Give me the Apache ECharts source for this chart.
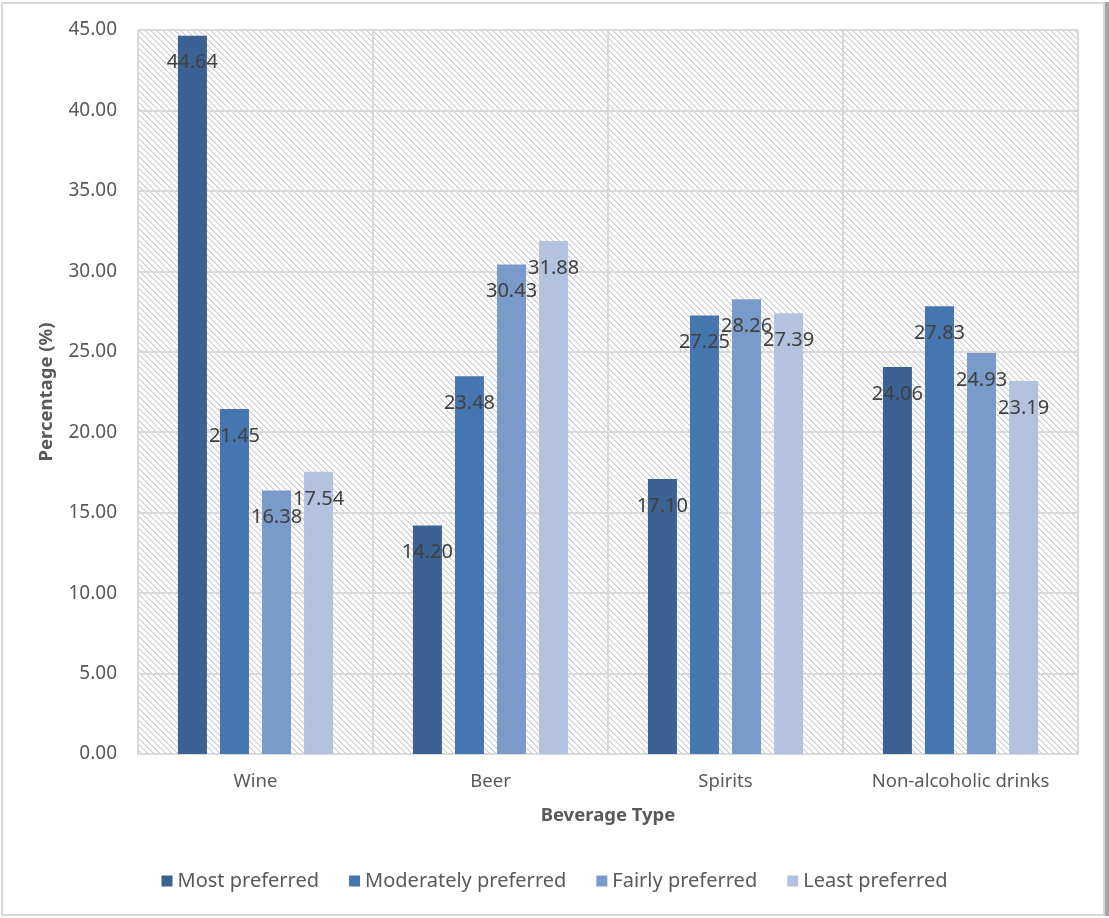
<!DOCTYPE html>
<html>
<head>
<meta charset="utf-8">
<script src="https://cdn.jsdelivr.net/npm/echarts@6/dist/echarts.min.js"></script>
<style>
  html, body { margin: 0; padding: 0; background: #ffffff; }
  #chart { position: absolute; left: 0; top: 0; width: 1109px; height: 918px; }
  #frame {
    position: absolute; left: 1px; top: 2px; width: 1100px; height: 910px;
    border: 2px solid #d9d9d9; box-shadow: 4px 0 0 #a6a6a6; pointer-events: none;
  }
</style>
</head>
<body>
<div id="chart"></div>
<div id="frame"></div>
<script>
// Beverage preference shares (%) by preference level
const categories = ['Wine', 'Beer', 'Spirits', 'Non-alcoholic drinks'];
const seriesNames = ['Most preferred', 'Moderately preferred', 'Fairly preferred', 'Least preferred'];
const mostPreferred = [44.64, 14.20, 17.10, 24.06];
const moderatelyPreferred = [21.45, 23.48, 27.25, 27.83];
const fairlyPreferred = [16.38, 30.43, 28.26, 24.93];
const leastPreferred = [17.54, 31.88, 27.39, 23.19];
const seriesValues = [mostPreferred, moderatelyPreferred, fairlyPreferred, leastPreferred];
const seriesColors = ['#3b6292', '#4676b0', '#7a9bc9', '#b3c3df'];

// Diagonal hatch fill for the plot area
function makeHatch() {
  const p = 6;
  const c = document.createElement('canvas');
  c.width = p; c.height = p;
  const ctx = c.getContext('2d');
  const img = ctx.createImageData(p, p);
  for (let y = 0; y < p; y++) {
    for (let x = 0; x < p; x++) {
      const d = ((x - y) % p + p) % p;
      let v = 255;
      if (d === 0) v = 205;
      else if (d === 1) v = 228;
      const i = (y * p + x) * 4;
      img.data[i] = v; img.data[i + 1] = v; img.data[i + 2] = v; img.data[i + 3] = 255;
    }
  }
  ctx.putImageData(img, 0, 0);
  return c;
}

const font = '"Noto Sans", "DejaVu Sans", sans-serif';
const chart = echarts.init(document.getElementById('chart'), null, { renderer: 'canvas' });

const option = {
  backgroundColor: '#ffffff',
  textStyle: { fontFamily: font },
  grid: {
    left: 138, right: 31, top: 30, bottom: 164,
    show: true,
    backgroundColor: { image: makeHatch(), repeat: 'repeat' },
    borderWidth: 0
  },
  legend: {
    data: seriesNames,
    left: 'center',
    top: 866,
    icon: 'rect',
    itemWidth: 11,
    itemHeight: 11,
    itemGap: 30,
    textStyle: { fontFamily: font, fontSize: 20, color: '#595959' }
  },
  xAxis: {
    type: 'category',
    data: categories,
    name: 'Beverage Type',
    nameLocation: 'middle',
    nameGap: 52,
    nameTextStyle: { fontFamily: font, fontSize: 18.5, fontWeight: 'bold', color: '#595959' },
    axisLine: { show: true, lineStyle: { color: '#d9d9d9', width: 2 } },
    axisTick: { show: false },
    axisLabel: { fontFamily: font, fontSize: 18.5, color: '#595959', margin: 18 },
    splitLine: { show: true, lineStyle: { color: '#d9d9d9', width: 2 } }
  },
  yAxis: {
    type: 'value',
    min: 0, max: 45, interval: 5,
    name: 'Percentage (%)',
    nameLocation: 'middle',
    nameGap: 82,
    nameTextStyle: { fontFamily: font, fontSize: 18.5, fontWeight: 'bold', color: '#595959' },
    axisLine: { show: false },
    axisTick: { show: false },
    axisLabel: {
      fontFamily: font, fontSize: 19, color: '#595959', margin: 21,
      formatter: v => v.toFixed(2)
    },
    splitLine: { show: true, lineStyle: { color: '#d9d9d9', width: 2 } }
  },
  series: seriesNames.map((name, i) => ({
    name: name,
    type: 'bar',
    data: seriesValues[i],
    barWidth: 29,
    barGap: '45%',
    itemStyle: { color: seriesColors[i] },
    label: {
      show: true,
      position: 'insideTop',
      distance: 17,
      fontFamily: font,
      fontSize: 20,
      color: '#404040',
      formatter: p => p.value.toFixed(2)
    }
  }))
};

chart.setOption(option);
</script>
</body>
</html>
